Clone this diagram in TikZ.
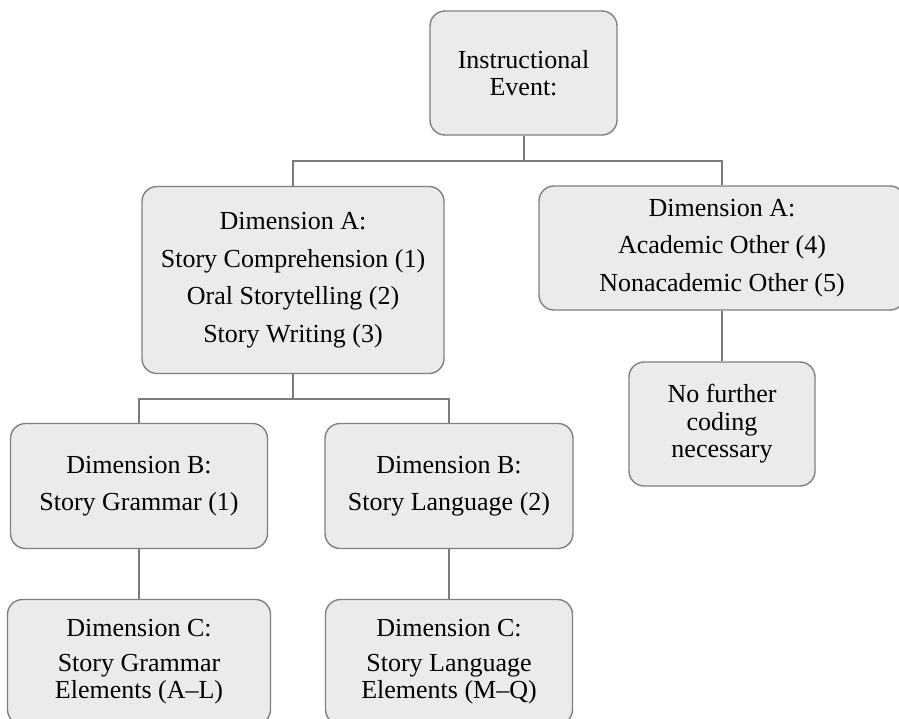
\documentclass[tikz,border=0pt]{standalone}
\usepackage{fontspec}
\setmainfont{Liberation Serif}
\usetikzlibrary{positioning}
\definecolor{boxfill}{HTML}{EBEBEB}
\definecolor{boxline}{HTML}{808080}
\definecolor{linkline}{HTML}{7A7A7A}
\tikzset{
  codebox/.style={draw=boxline, line width=1.4pt, fill=boxfill, rounded corners=15pt,
    align=center, inner sep=0pt, font=\fontsize{26}{27.5}\selectfont},
  link/.style={draw=linkline, line width=2pt}
}

\begin{document}
\begin{tikzpicture}[x=1pt, y=1pt]
    \clip (0,0) rectangle (899,-718);
    \fill[white] (0,0) rectangle (899,-718);
    % top level
    \node[codebox, minimum width=187pt, minimum height=124pt] (event) at (523.5,-73) {Instructional\\Event:};
    % dimension A
    \node[codebox, minimum width=302pt, minimum height=187pt] (dimAstory) at (293,-280)
      {Dimension A:\\[10pt]Story Comprehension (1)\\[10pt]Oral Storytelling (2)\\[10pt]Story Writing (3)};
    \node[codebox, minimum width=366pt, minimum height=124pt] (dimAother) at (722,-248)
      {Dimension A:\\[10pt]Academic Other (4)\\[10pt]Nonacademic Other (5)};
    \node[codebox, minimum width=186pt, minimum height=124pt] (nofurther) at (722,-424)
      {No further\\coding\\necessary};
    % dimension B
    \node[codebox, minimum width=257pt, minimum height=125pt] (dimBgram) at (139,-486)
      {Dimension B:\\[10pt]Story Grammar (1)};
    \node[codebox, minimum width=248pt, minimum height=125pt] (dimBlang) at (449,-486)
      {Dimension B:\\[10pt]Story Language (2)};
    % dimension C
    \node[codebox, minimum width=263pt, minimum height=125pt] (dimCgram) at (139,-662)
      {Dimension C:\\[7pt]Story Grammar\\Elements (A--L)};
    \node[codebox, minimum width=247pt, minimum height=125pt] (dimClang) at (449,-662)
      {Dimension C:\\[7pt]Story Language\\Elements (M--Q)};
    % connectors
    \draw[link] (event.south) -- ++(0,-25) -| (dimAstory.north);
    \draw[link] (event.south) -- ++(0,-25) -| (dimAother.north);
    \draw[link] (dimAother.south) -- (nofurther.north);
    \draw[link] (dimAstory.south) -- ++(0,-25) -| (dimBgram.north);
    \draw[link] (dimAstory.south) -- ++(0,-25) -| (dimBlang.north);
    \draw[link] (dimBgram.south) -- (dimCgram.north);
    \draw[link] (dimBlang.south) -- (dimClang.north);
  \end{tikzpicture}
\end{document}
